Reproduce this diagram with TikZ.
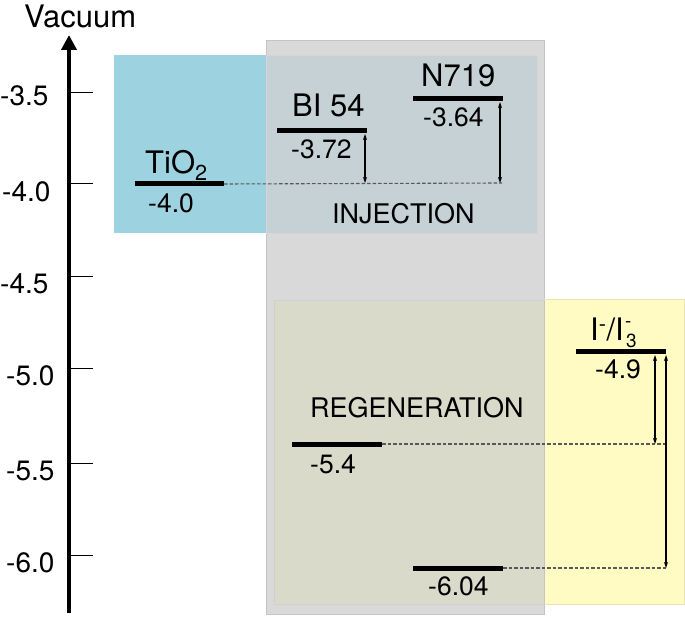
\documentclass[tikz,border=0pt]{standalone}
\usepackage{fontspec}
\setmainfont{TeX Gyre Heros}
\usetikzlibrary{arrows.meta}
\definecolor{boxgray}{HTML}{D9D9D9}
\definecolor{boxgrayline}{HTML}{C4C4C4}
\definecolor{boxblue}{HTML}{9DD3E0}
\definecolor{boxbluegray}{HTML}{C6D1D6}
\definecolor{boxyellow}{HTML}{FFFBC2}
\definecolor{boxyellowline}{HTML}{E8E4B4}
\definecolor{boxyellowgray}{HTML}{DADACB}
\definecolor{dashgray}{HTML}{585858}
\tikzset{
  levelbar/.style={line width=5pt},
  linkdash/.style={draw=dashgray,line width=1.1pt,dash pattern=on 3.5pt off 2pt},
  gaparrow/.style={line width=1.1pt,{Stealth[length=6pt,width=4pt]}-{Stealth[length=6pt,width=4pt]}},
  tickline/.style={line width=1pt},
  namelbl/.style={anchor=base west,inner sep=0pt,font=\fontsize{31}{36}\selectfont},
  vallbl/.style={anchor=base west,inner sep=0pt,font=\fontsize{26.5}{31}\selectfont},
  ticklbl/.style={anchor=base west,inner sep=0pt,font=\fontsize{28}{33}\selectfont},
  regionlbl/.style={anchor=base west,inner sep=0pt,font=\fontsize{27}{32}\selectfont},
  scriptlbl/.style={anchor=base west,inner sep=0pt,font=\fontsize{19}{22}\selectfont},
}
\begin{document}
\begin{tikzpicture}[x=1pt,y=-1pt]
\useasboundingbox (0,0) rectangle (685,617);
% boxes
\fill[boxblue] (114,55) rectangle (266,233);
\draw[boxgrayline,fill=boxgray,line width=1pt] (266,41) rectangle (544,614);
\draw[boxgrayline!70,fill=boxbluegray,line width=0.8pt] (266,55) rectangle (537,233);
\draw[boxyellowline,fill=boxyellow,line width=1pt] (544,300) rectangle (684,604);
\draw[boxgrayline!80,fill=boxyellowgray,line width=0.8pt] (274,300) rectangle (544,604);
\draw[boxgrayline,line width=1pt] (544,300) -- (544,604);

% axis
\coordinate (axbot) at (69,613);
\coordinate (axtop) at (69,35);
\draw[line width=4.5pt,-{Triangle[length=15pt,width=15pt]}] (axbot) -- (axtop);
\node[anchor=base west,inner sep=0pt,font=\fontsize{31}{36}\selectfont] (vac) at (24,28) {Vacuum};
\foreach \yy in {93,184,277,368,463,555}{
  \draw[tickline] (69,\yy) -- (93,\yy);
}
\node[ticklbl] (t35) at (0,106) {-3.5};
\node[ticklbl] (t40) at (2,202) {-4.0};
\node[ticklbl] (t45) at (0,294) {-4.5};
\node[ticklbl] (t50) at (6,385) {-5.0};
\node[ticklbl] (t55) at (6,480) {-5.5};
\node[ticklbl] (t60) at (6,572) {-6.0};

% levels
\coordinate (tiA) at (135,184); \coordinate (tiB) at (224,184);
\coordinate (biA) at (277,131); \coordinate (biB) at (367,131);
\coordinate (nA) at (413,99); \coordinate (nB) at (503,99);
\coordinate (iA) at (576,352); \coordinate (iB) at (666,352);
\coordinate (hA) at (292,444); \coordinate (hB) at (382,444);
\coordinate (gA) at (413,568); \coordinate (gB) at (503,568);

% dashed links
\coordinate (injEnd) at (502,183);
\coordinate (r1End) at (666,444);
\coordinate (r2End) at (666,568);
\draw[linkdash] (tiB) -- (injEnd);
\draw[linkdash] (hB) -- (r1End);
\draw[linkdash] (gB) -- (r2End);

\draw[levelbar] (tiA) -- (tiB);
\draw[levelbar] (biA) -- (biB);
\draw[levelbar] (nA) -- (nB);
\draw[levelbar] (iA) -- (iB);
\draw[levelbar] (hA) -- (hB);
\draw[levelbar] (gA) -- (gB);

% gap arrows
\coordinate (a1t) at (365,134); \coordinate (a1b) at (365,183);
\coordinate (a2t) at (500,102); \coordinate (a2b) at (500,183);
\coordinate (a3t) at (655,355); \coordinate (a3b) at (655,444);
\coordinate (a4t) at (666,355); \coordinate (a4b) at (666,568);
\draw[gaparrow] (a1t) -- (a1b);
\draw[gaparrow] (a2t) -- (a2b);
\draw[gaparrow] (a3t) -- (a3b);
\draw[gaparrow] (a4t) -- (a4b);

% labels
\node[namelbl] (tiname) at (145,174) {TiO\textsubscript{2}};
\node[vallbl] (tival) at (148,213) {-4.0};
\node[namelbl] (biname) at (292,117) {BI 54};
\node[vallbl] (bival) at (291,159) {-3.72};
\node[namelbl] (nname) at (421,87) {N719};
\node[vallbl] (nval) at (423,127) {-3.64};
\node[namelbl] (iname) at (590,341) {I\textsuperscript{-}/I};
\node[scriptlbl] (isup) at ([xshift=1pt]iname.east |- 0,328) {-};
\node[scriptlbl] (isub) at ([xshift=2pt]iname.east |- 0,348) {3};
\node[vallbl] (ival) at (595,378) {-4.9};
\node[vallbl] (hval) at (310,473) {-5.4};
\node[vallbl] (gval) at (428,595) {-6.04};
\node[regionlbl] (inj) at (332,224) {INJECTION};
\node[regionlbl] (regen) at (310,417) {REGENERATION};
\end{tikzpicture}
\end{document}
